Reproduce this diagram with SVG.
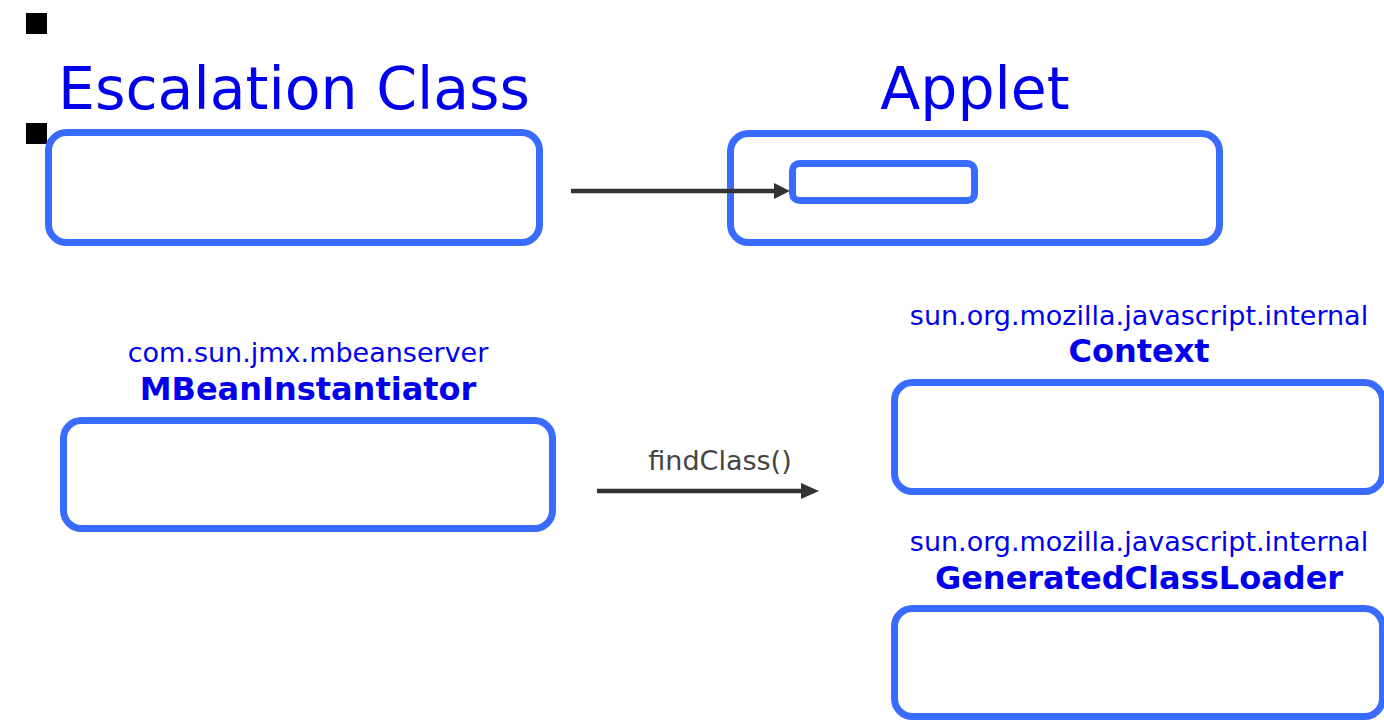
<svg xmlns="http://www.w3.org/2000/svg" width="1384" height="721" viewBox="0 0 1384 721">
<style>
.box{fill:#fff;stroke:#3a6bff;stroke-width:7}
.title{font-family:"DejaVu Sans",sans-serif;font-size:58.5px;fill:#0000ee;text-anchor:middle}
.pkg{font-family:"DejaVu Sans",sans-serif;font-size:27px;fill:#0000ee;text-anchor:middle}
.cls{font-family:"DejaVu Sans",sans-serif;font-size:32px;font-weight:bold;fill:#0000ee;text-anchor:middle}
.lbl{font-family:"DejaVu Sans",sans-serif;font-size:27px;fill:#444;text-anchor:middle}
.conn{stroke:#333;stroke-width:4.5;fill:none}
</style>
<defs>
<marker id="ah" markerWidth="18" markerHeight="18" refX="9" refY="9" orient="auto" markerUnits="userSpaceOnUse">
<path d="M0,1 L18,9 L0,17 z" fill="#333"/>
</marker>
<marker id="ahs" markerWidth="16" markerHeight="18" refX="8" refY="9" orient="auto" markerUnits="userSpaceOnUse">
<path d="M0,1 L16,9 L0,17 z" fill="#333"/>
</marker>
</defs>
<rect x="26" y="13" width="21" height="21" fill="#000"/>
<rect x="26" y="123" width="21" height="21" fill="#000"/>
<g id="escalation">
<text class="title" x="294" y="109">Escalation Class</text>
<rect class="box" x="48.5" y="132.5" width="491" height="110" rx="18"/>
</g>
<g id="applet">
<text class="title" x="975" y="109">Applet</text>
<rect class="box" x="730.5" y="133.5" width="489" height="109" rx="18"/>
<rect class="box" id="applet-inner" x="792.5" y="163.5" width="182" height="37" rx="7"/>
</g>
<g id="mbean">
<text class="pkg" x="308" y="362">com.sun.jmx.mbeanserver</text>
<text class="cls" x="308" y="400">MBeanInstantiator</text>
<rect class="box" x="63.5" y="420.5" width="489" height="108" rx="18"/>
</g>
<g id="context">
<text class="pkg" x="1139" y="325">sun.org.mozilla.javascript.internal</text>
<text class="cls" x="1139" y="362">Context</text>
<rect class="box" x="894.5" y="382.5" width="488" height="109" rx="18"/>
</g>
<g id="gcl">
<text class="pkg" x="1139" y="551">sun.org.mozilla.javascript.internal</text>
<text class="cls" x="1139" y="589">GeneratedClassLoader</text>
<rect class="box" x="894.5" y="608.5" width="488" height="108" rx="18"/>
</g>
<g id="connectors">
<line class="conn" x1="571" y1="191" x2="782" y2="191" marker-end="url(#ahs)"/>
<line class="conn" x1="597" y1="491" x2="810" y2="491" marker-end="url(#ah)"/>
<text class="lbl" x="720" y="470">findClass()</text>
</g>
</svg>
